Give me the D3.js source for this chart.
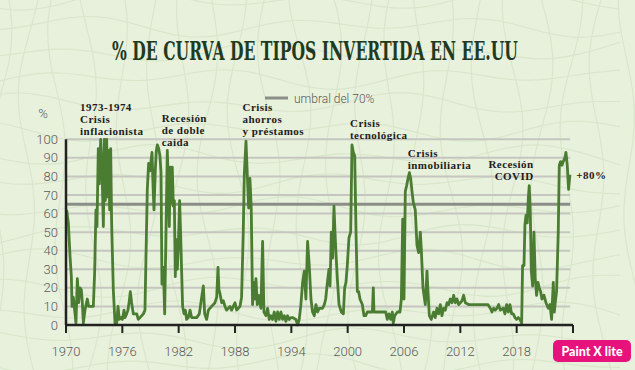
<!DOCTYPE html>
<html>
<head>
<meta charset="utf-8">
<script src="https://cdn.jsdelivr.net/npm/d3@7"></script>
<style>
  html, body { margin: 0; padding: 0; background: #e8f1dc; }
  svg { display: block; }
  .tick-label { font-family: Roboto, "Open Sans", sans-serif; font-weight: 300; font-size: 13px; fill: #5a5a5a; }
  .note { font-family: "Liberation Serif", "DejaVu Serif", serif; font-weight: bold; font-size: 11px; letter-spacing: 0.45px; fill: #1c1c1c; }
</style>
</head>
<body>
<svg id="chart" width="635" height="370"></svg>
<script>
/* Data (decimal year, % of yield curve inverted) */
const dates = [
  1970.07, 1970.25, 1970.43, 1970.57, 1970.64, 1970.78, 1970.92, 1971.06, 1971.21, 1971.35,
  1971.49, 1971.63, 1971.74, 1971.85, 1972.02, 1972.27, 1972.41, 1972.91, 1973.05, 1973.19,
  1973.30, 1973.44, 1973.55, 1973.69, 1973.83, 1973.98, 1974.08, 1974.19, 1974.33, 1974.44,
  1974.54, 1974.65, 1974.76, 1974.86, 1975.04, 1975.22, 1975.40, 1975.54, 1975.68, 1975.86,
  1976.00, 1976.18, 1976.28, 1976.46, 1976.60, 1976.74, 1976.85, 1976.99, 1977.17, 1977.53,
  1977.70, 1977.88, 1978.24, 1978.41, 1978.52, 1978.66, 1978.80, 1978.95, 1979.05, 1979.16,
  1979.27, 1979.37, 1979.51, 1979.62, 1979.73, 1979.87, 1980.01, 1980.12, 1980.22, 1980.37,
  1980.51, 1980.65, 1980.79, 1980.90, 1981.00, 1981.11, 1981.22, 1981.32, 1981.43, 1981.54,
  1981.64, 1981.75, 1981.86, 1981.96, 1982.10, 1982.21, 1982.32, 1982.42, 1982.57, 1982.71,
  1982.85, 1983.03, 1983.21, 1983.38, 1983.63, 1983.92, 1984.20, 1984.45, 1984.63, 1984.77,
  1984.98, 1985.16, 1985.51, 1985.87, 1986.05, 1986.19, 1986.29, 1986.40, 1986.58, 1986.76,
  1986.93, 1987.11, 1987.47, 1987.64, 1987.82, 1988.00, 1988.18, 1988.53, 1988.70, 1988.88,
  1988.99, 1989.17, 1989.34, 1989.45, 1989.59, 1989.73, 1989.87, 1989.98, 1990.12, 1990.23,
  1990.37, 1990.51, 1990.76, 1990.94, 1991.08, 1991.29, 1991.47, 1991.65, 1991.83, 1992.00,
  1992.18, 1992.36, 1992.54, 1992.71, 1992.89, 1993.07, 1993.25, 1993.42, 1993.60, 1993.78,
  1993.96, 1994.13, 1994.49, 1994.67, 1994.84, 1995.02, 1995.20, 1995.38, 1995.55, 1995.73,
  1995.91, 1996.09, 1996.26, 1996.44, 1996.62, 1996.80, 1996.97, 1997.33, 1997.51, 1997.66,
  1997.84, 1998.01, 1998.12, 1998.26, 1998.40, 1998.54, 1998.65, 1998.76, 1998.90, 1999.08,
  1999.33, 1999.54, 1999.68, 1999.82, 1999.96, 2000.14, 2000.32, 2000.46, 2000.60, 2000.75,
  2000.89, 2001.03, 2001.17, 2001.31, 2001.56, 2001.74, 2001.92, 2002.09, 2002.63, 2002.73,
  2002.80, 2003.16, 2003.51, 2004.05, 2004.22, 2004.40, 2004.58, 2004.76, 2004.86, 2005.01,
  2005.29, 2005.57, 2005.72, 2005.86, 2006.00, 2006.14, 2006.28, 2006.43, 2006.57, 2006.71,
  2006.85, 2006.99, 2007.20, 2007.38, 2007.56, 2007.74, 2007.84, 2008.02, 2008.27, 2008.45,
  2008.55, 2008.70, 2008.90, 2009.16, 2009.33, 2009.51, 2009.69, 2009.87, 2010.04, 2010.22,
  2010.40, 2010.58, 2010.75, 2010.93, 2011.11, 2011.29, 2011.46, 2011.64, 2011.82, 2012.00,
  2012.17, 2012.35, 2012.53, 2012.88, 2014.94, 2015.19, 2015.37, 2015.55, 2015.72, 2015.90,
  2016.08, 2016.26, 2016.58, 2016.75, 2016.93, 2017.11, 2017.28, 2017.46, 2017.64, 2017.82,
  2017.99, 2018.17, 2018.35, 2018.53, 2018.63, 2018.78, 2018.88, 2018.99, 2019.13, 2019.24,
  2019.34, 2019.45, 2019.56, 2019.70, 2019.84, 2019.98, 2020.12, 2020.27, 2020.41, 2020.55,
  2020.69, 2020.91, 2021.12, 2021.37, 2021.55, 2021.72, 2021.90, 2022.01, 2022.11, 2022.25,
  2022.43, 2022.54, 2022.68, 2022.82, 2022.96, 2023.14, 2023.25, 2023.39, 2023.53, 2023.67
];
const pctInverted = [
  62, 55, 37, 26, 10, 15, 8, 1, 25, 12,
  20, 19, 12, 1, 8, 14, 10, 10, 28, 62,
  53, 95, 76, 100, 85, 53, 100, 67, 100, 69,
  94, 62, 95, 55, 19, 1, 1, 10, 3, 4,
  3, 8, 4, 6, 8, 13, 18, 12, 6, 6,
  3, 4, 6, 8, 37, 73, 87, 83, 88, 93,
  75, 62, 83, 94, 97, 95, 91, 82, 22, 31,
  6, 51, 94, 76, 53, 85, 66, 85, 64, 67,
  26, 46, 30, 42, 67, 49, 28, 10, 6, 8,
  3, 4, 8, 4, 4, 4, 6, 15, 21, 6,
  3, 8, 10, 12, 15, 31, 19, 17, 12, 13,
  10, 8, 10, 8, 10, 12, 8, 10, 15, 50,
  81, 99, 77, 63, 79, 63, 11, 23, 14, 25,
  11, 16, 9, 45, 7, 5, 9, 3, 5, 3,
  7, 2, 7, 3, 7, 3, 5, 2, 5, 3,
  4, 4, 3, 0, 3, 11, 23, 29, 14, 45,
  32, 14, 7, 5, 11, 7, 9, 9, 11, 14,
  23, 30, 21, 50, 36, 64, 50, 38, 25, 11,
  7, 6, 20, 23, 32, 47, 50, 97, 93, 91,
  50, 18, 18, 14, 11, 5, 5, 7, 7, 20,
  7, 7, 7, 7, 3, 6, 3, 7, 1, 5,
  7, 7, 14, 57, 14, 72, 75, 79, 82, 79,
  72, 66, 62, 43, 39, 50, 41, 20, 11, 29,
  18, 5, 3, 7, 4, 9, 6, 11, 5, 9,
  8, 12, 11, 14, 12, 16, 12, 14, 11, 12,
  13, 16, 12, 11, 11, 9, 7, 9, 8, 9,
  11, 8, 9, 6, 11, 7, 11, 6, 6, 4,
  3, 4, 3, 1, 32, 32, 54, 59, 55, 68,
  75, 61, 29, 21, 50, 25, 16, 23, 20, 18,
  14, 16, 12, 9, 11, 3, 23, 7, 12, 18,
  50, 86, 88, 86, 88, 90, 93, 86, 73, 81
];

const yearTicks = [1970, 1976, 1982, 1988, 1994, 2000, 2006, 2012, 2018, 2024];
const pctTicks = [0, 10, 20, 30, 40, 50, 60, 70, 80, 90, 100];
const thresholdValue = 65; // drawn position of the "umbral del 70%" line

const noteTexts = [
  ["1973-1974", "Crisis", "inflacionista"],
  ["Recesión", "de doble", "caida"],
  ["Crisis", "ahorros", "y préstamos"],
  ["Crisis", "tecnológica"],
  ["Crisis", "inmobiliaria"],
  ["Recesión", "COVID"]
];
// label anchors in data units (year, % level of first baseline)
const noteYears = [1971.5, 1980.2, 1988.8, 2000.25, 2006.4, 2019.8];
const noteLevels = [115.5, 109.5, 115.5, 106.5, 90.5, 84.5];

/* Layout */
const svg = d3.select("#chart");
const x = d3.scaleLinear().domain([1970, 2024]).range([66, 573]);
const y = d3.scaleLinear().domain([0, 100]).range([325, 139.3]);
const green = "#4a7d31";

svg.append("rect").attr("width", 635).attr("height", 370).attr("fill", "#e8f1dc");

// Faint scribbled paper texture behind everything
const texture = svg.append("g")
  .attr("fill", "none")
  .attr("stroke", "#d2e2c3")
  .attr("stroke-width", 1.1)
  .attr("opacity", 0.7);
const wave = d3.line().curve(d3.curveBasis);
d3.range(0, 390, 26).forEach((y0, k) => {
  const pts = d3.range(-20, 660, 40).map((x0, j) =>
    [x0, y0 + 9 * Math.sin(j * 1.3 + k * 0.9) + 5 * Math.cos(j * 0.7 + k * 2.1)]);
  texture.append("path").attr("d", wave(pts));
});
d3.range(0, 660, 30).forEach((x0, k) => {
  const pts = d3.range(-20, 400, 40).map((y0, j) =>
    [x0 + 10 * Math.sin(j * 1.1 + k * 1.7) + 5 * Math.cos(j * 0.5 + k), y0]);
  texture.append("path").attr("d", wave(pts));
});

// Title: measured, then squeezed horizontally to the reference width
const title = svg.append("text")
  .attr("text-anchor", "middle")
  .style("font-family", "'DejaVu Serif', 'Liberation Serif', serif")
  .style("font-weight", "bold").style("font-size", "26px")
  .attr("fill", "#1e3a20")
  .text("% DE CURVA DE TIPOS INVERTIDA EN EE.UU");
const titleWidth = title.node().getComputedTextLength();
title.attr("transform", `translate(315,60) scale(${406 / titleWidth},1)`);

// Legend
svg.append("line")
  .attr("x1", 265).attr("x2", 288).attr("y1", 98).attr("y2", 98)
  .attr("stroke", "#8b8d88").attr("stroke-width", 3);
svg.append("text")
  .attr("x", 294).attr("y", 102.5)
  .attr("class", "tick-label").attr("fill", "#7a7a7a")
  .style("font-size", "12px")
  .text("umbral del 70%");

// Gridlines
svg.append("g")
  .selectAll("line")
  .data(pctTicks.filter(d => d > 0))
  .join("line")
  .attr("x1", x(1970)).attr("x2", x(2023.7))
  .attr("y1", d => y(d)).attr("y2", d => y(d))
  .attr("stroke", "#c4c6bf").attr("stroke-width", 2);

// Threshold line
svg.append("line")
  .attr("x1", x(1970)).attr("x2", x(2023.7))
  .attr("y1", y(thresholdValue)).attr("y2", y(thresholdValue))
  .attr("stroke", "#8b8d88").attr("stroke-width", 3);

// Y labels
svg.append("g")
  .selectAll("text")
  .data(pctTicks)
  .join("text")
  .attr("class", "tick-label")
  .attr("x", 58).attr("y", d => y(d) + 4.5)
  .attr("text-anchor", "end")
  .text(d => d);
svg.append("text")
  .attr("class", "tick-label")
  .attr("x", 43).attr("y", 118)
  .attr("text-anchor", "middle")
  .text("%");

// Series
const line = d3.line()
  .x((d, i) => x(dates[i]))
  .y(d => y(d));
svg.append("path")
  .datum(pctInverted)
  .attr("d", line)
  .attr("fill", "none")
  .attr("stroke", green)
  .attr("stroke-width", 2.8)
  .attr("stroke-linejoin", "round");

// Axes (drawn after the line so the baseline sits on top)
const xAxis = svg.append("g").attr("transform", `translate(0,${y(0)})`);
xAxis.append("line")
  .attr("x1", x(1970)).attr("x2", x(2024))
  .attr("stroke", "#222").attr("stroke-width", 2.5);
xAxis.selectAll("line.tick")
  .data(yearTicks)
  .join("line")
  .attr("class", "tick")
  .attr("x1", d => x(d)).attr("x2", d => x(d))
  .attr("y1", 0).attr("y2", 8)
  .attr("stroke", "#222").attr("stroke-width", 2);
xAxis.selectAll("text")
  .data(yearTicks.filter(d => d < 2024))
  .join("text")
  .attr("class", "tick-label")
  .attr("x", d => x(d)).attr("y", 31)
  .attr("text-anchor", "middle")
  .text(d => d);

svg.append("line")
  .attr("x1", x(1970)).attr("x2", x(1970))
  .attr("y1", y(100)).attr("y2", y(0))
  .attr("stroke", "#222").attr("stroke-width", 2.5);

// Annotations, one text per line
noteTexts.forEach((lines, i) => {
  svg.append("g")
    .selectAll("text")
    .data(lines)
    .join("text")
    .attr("class", "note")
    .attr("text-anchor", i === noteTexts.length - 1 ? "end" : "start")
    .attr("x", x(noteYears[i]))
    .attr("y", (s, j) => y(noteLevels[i]) + j * 12.2)
    .text(s => s);
});

svg.append("text")
  .attr("class", "note")
  .attr("x", x(2024.35)).attr("y", y(pctInverted[pctInverted.length - 1]) + 4)
  .text("+80%");

// Watermark badge
const badge = svg.append("g").attr("transform", "translate(553,340)");
badge.append("rect")
  .attr("width", 78).attr("height", 22).attr("rx", 5)
  .attr("fill", "#e8127d");
badge.append("text")
  .attr("x", 39).attr("y", 15.5)
  .attr("text-anchor", "middle")
  .style("font-family", "Lato, Roboto, sans-serif")
  .style("font-weight", 900).style("font-size", "12.5px")
  .attr("fill", "#fff")
  .text("Paint X lite");
</script>
</body>
</html>
